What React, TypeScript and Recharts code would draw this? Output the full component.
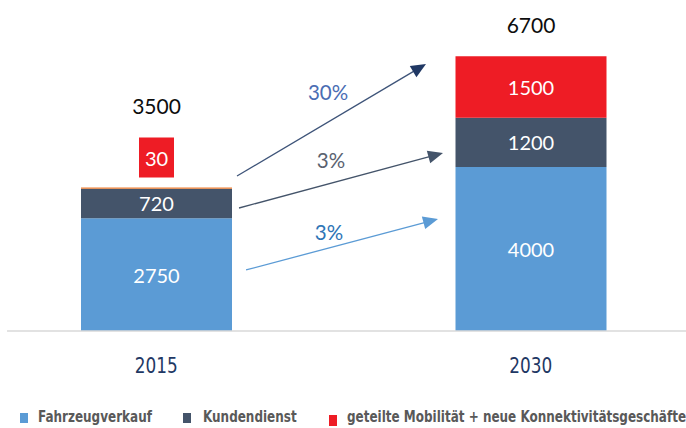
import React from 'react';
import { BarChart, Bar, XAxis, YAxis, LabelList, Legend, ReferenceLine, ReferenceDot, Cell } from 'recharts';

// ---- data ----
const categories = ['2015', '2030'];
const fahrzeugverkauf = [2750, 4000];
const kundendienst = [720, 1200];
const mobilitaet = [30, 1500];
const totals = [3500, 6700];
const seriesNames = ['Fahrzeugverkauf', 'Kundendienst', 'geteilte Mobilität + neue Konnektivitätsgeschäfte'];

// growth annotations (x in category units: category i spans [i, i+1]; y in data values)
const growthLabels = ['30%', '3%', '3%'];
const arrowStarts = [
  { x: 0.7156, y: 3780 },
  { x: 0.721, y: 3000 },
  { x: 0.7397, y: 1488 },
];
const arrowEnds = [
  { x: 1.2203, y: 6512 },
  { x: 1.2657, y: 4341 },
  { x: 1.2524, y: 2732 },
];
const labelAnchors = [
  { x: 0.9586, y: 5805 },
  { x: 0.9666, y: 4146 },
  { x: 0.9613, y: 2390 },
];

// ---- styles ----
const BLUE = '#5B9BD5';
const DARK = '#44546A';
const RED = '#EE1C25';
const ORANGE = '#ED7D31';
const CAL = 'Lato, "Open Sans", sans-serif';
const NARROW = '"DejaVu Sans Condensed", "DejaVu Sans", sans-serif';
const arrowLineColors = ['#3E5479', '#44546A', '#5B9BD5'];
const arrowHeadColors = ['#203864', '#44546A', '#5B9BD5'];
const growthColors = ['#4A6DB3', '#5A6270', '#2E75B6'];
const legendColors = [BLUE, DARK, RED];
const legendSquareX = [20, 183, 329];
const legendTextX = [38, 203, 347];

const data = categories.map((c, i) => ({
  year: c,
  slot: i + 0.5,
  fz: fahrzeugverkauf[i],
  kd: kundendienst[i],
  mob: mobilitaet[i],
  total: totals[i],
}));

const vbOf = (p: any) => p.viewBox || { x: p.x, y: p.y, width: p.width, height: p.height };

const innerLabel = (p: any) => {
  const { x, y, width, height } = vbOf(p);
  return (
    <text x={x + width / 2} y={y + height / 2} textAnchor="middle" dominantBaseline="central" fill="#fff" fontSize={20} fontFamily={CAL}>
      {p.value}
    </text>
  );
};

const mobLabel = (p: any) => {
  const { x, y, width, height } = vbOf(p);
  const cx = x + width / 2;
  if (Math.abs(height) < 8) {
    const bw = 35;
    const bh = 40;
    const by = y - 10 - bh;
    return (
      <g>
        <rect x={cx - bw / 2} y={by} width={bw} height={bh} fill={RED} />
        <text x={cx} y={by + bh / 2} textAnchor="middle" dominantBaseline="central" fill="#fff" fontSize={20} fontFamily={CAL}>
          {p.value}
        </text>
      </g>
    );
  }
  return innerLabel(p);
};

const totalLabel = (p: any) => {
  const { x, y, width, height } = vbOf(p);
  const top = Math.abs(height) < 8 ? y - 50 : y;
  return (
    <text x={x + width / 2} y={top - 32} textAnchor="middle" dominantBaseline="central" fill="#0D0D0D" fontSize={21} fontFamily={CAL}>
      {p.value}
    </text>
  );
};

const arrowShape = (lineColor: string, headColor: string) => (p: any) => {
  const { x1, y1, x2, y2 } = p;
  const dx = x2 - x1;
  const dy = y2 - y1;
  const len = Math.hypot(dx, dy) || 1;
  const ux = dx / len;
  const uy = dy / len;
  const hl = 15;
  const hw = 6.5;
  const bx = x2 - ux * hl;
  const by = y2 - uy * hl;
  const px = -uy;
  const py = ux;
  return (
    <g>
      <line x1={x1} y1={y1} x2={bx + ux * 2} y2={by + uy * 2} stroke={lineColor} strokeWidth={1.3} />
      <polygon points={`${x2},${y2} ${bx + px * hw},${by + py * hw} ${bx - px * hw},${by - py * hw}`} fill={headColor} />
    </g>
  );
};

const yearTick = (p: any) => (
  <text
    x={p.x}
    y={p.y + 34}
    textAnchor="middle"
    dominantBaseline="central"
    fill="#1F3864"
    fontSize={21.5}
    fontFamily={NARROW}
    textLength={43}
    lengthAdjust="spacingAndGlyphs"
  >
    {p.payload.value}
  </text>
);

const legendContent = () => (
  <div style={{ position: 'relative', width: 686, height: 30 }}>
    {seriesNames.map((n, i) => (
      <React.Fragment key={n}>
        <div
          style={{
            position: 'absolute',
            left: legendSquareX[i],
            top: i === 2 ? 17 : 15,
            width: 8,
            height: i === 2 ? 11 : 10,
            background: legendColors[i],
          }}
        />
        <span
          style={{
            position: 'absolute',
            left: legendTextX[i],
            top: 9,
            fontFamily: NARROW,
            fontSize: 15.5,
            fontWeight: 'bold',
            color: '#595959',
            lineHeight: '20px',
            whiteSpace: 'nowrap',
            transform: 'scaleX(0.86)',
            transformOrigin: 'left center',
          }}
        >
          {n}
        </span>
      </React.Fragment>
    ))}
  </div>
);

export default function App() {
  return (
    <div style={{ position: 'absolute', left: 0, top: 0, width: 686, height: 428, background: '#fff', fontFamily: CAL }}>
      <BarChart width={686} height={428} data={data} margin={{ top: 3, right: -32, bottom: 0, left: -31 }}>
        <XAxis dataKey="year" axisLine={false} tickLine={false} tickSize={0} tickMargin={0} height={67} tick={yearTick} />
        <XAxis xAxisId="num" dataKey="slot" type="number" domain={[0, 2]} hide allowDataOverflow />
        <YAxis hide type="number" domain={[0, 8000]} allowDataOverflow />
        <Legend verticalAlign="bottom" height={30} content={legendContent} wrapperStyle={{ left: 0, bottom: 0, width: 686, height: 30 }} />
        <ReferenceLine
          xAxisId="num"
          segment={[{ x: 0.1015, y: 0 }, { x: 2, y: 0 }]}
          stroke="#D9D9D9"
          strokeWidth={1.5}
        />
        <Bar dataKey="fz" name={seriesNames[0]} stackId="a" fill={BLUE} barSize={151} isAnimationActive={false}>
          <LabelList dataKey="fz" content={innerLabel} />
        </Bar>
        <Bar dataKey="kd" name={seriesNames[1]} stackId="a" fill={DARK} barSize={151} isAnimationActive={false}>
          <LabelList dataKey="kd" content={innerLabel} />
        </Bar>
        <Bar dataKey="mob" name={seriesNames[2]} stackId="a" fill={RED} barSize={151} isAnimationActive={false}>
          {data.map((d, i) => (
            <Cell key={d.year} fill={i === 0 ? ORANGE : RED} />
          ))}
          <LabelList dataKey="mob" content={mobLabel} />
          <LabelList dataKey="total" content={totalLabel} />
        </Bar>
        {growthLabels.map((g, i) => (
          <ReferenceLine
            key={'arrow' + i}
            xAxisId="num"
            segment={[arrowStarts[i], arrowEnds[i]]}
            shape={arrowShape(arrowLineColors[i], arrowHeadColors[i])}
          />
        ))}
        {growthLabels.map((g, i) => (
          <ReferenceDot
            key={'lbl' + i}
            xAxisId="num"
            x={labelAnchors[i].x}
            y={labelAnchors[i].y}
            r={0}
            fill="none"
            stroke="none"
            label={{ value: g, position: 'center', fill: growthColors[i], fontSize: 20.5, fontFamily: CAL }}
          />
        ))}
      </BarChart>
    </div>
  );
}
